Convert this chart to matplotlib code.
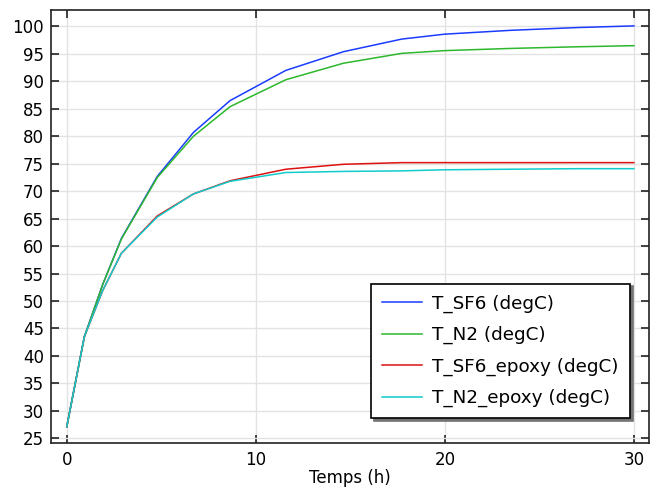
import numpy as np
import matplotlib
matplotlib.use("Agg")
import matplotlib.pyplot as plt

# temps (h) et temperatures (degC)
temps = [0, 0.93, 1.9, 2.89, 4.79, 6.70, 8.64, 11.59, 14.63, 17.72, 20.0, 23.5, 27.0, 30.0]
T_SF6 = [27.1, 43.5, 53.0, 61.4, 72.7, 80.7, 86.5, 92.0, 95.4, 97.7, 98.6, 99.3, 99.8, 100.1]
T_N2 = [27.1, 43.5, 53.0, 61.3, 72.5, 80.0, 85.4, 90.3, 93.3, 95.1, 95.6, 96.0, 96.3, 96.5]
T_SF6_epoxy = [27.1, 43.5, 51.9, 58.7, 65.5, 69.5, 71.9, 74.0, 74.9, 75.2, 75.2, 75.2, 75.2, 75.2]
T_N2_epoxy = [27.1, 43.5, 51.9, 58.7, 65.3, 69.5, 71.8, 73.4, 73.6, 73.7, 73.9, 74.0, 74.1, 74.1]

noms = ["T_SF6 (degC)", "T_N2 (degC)", "T_SF6_epoxy (degC)", "T_N2_epoxy (degC)"]
couleurs = ["#1a3cff", "#2db82d", "#dd1111", "#11cccc"]
series = [T_SF6, T_N2, T_SF6_epoxy, T_N2_epoxy]

plt.rcParams['font.family'] = ['DejaVu Sans']
plt.rcParams['font.size'] = 12

fig = plt.figure(figsize=(6.5, 4.87), dpi=100)
ax = fig.add_axes([0.078, 0.091, 0.9205, 0.8885])

for y, nom, c in zip(series, noms, couleurs):
    ax.plot(temps, y, color=c, lw=1.1, label=nom)

ax.set_xlim(-0.85, 30.8)
ax.set_ylim(24.2, 103.0)
ax.set_xticks([0, 10, 20, 30])
ax.set_yticks(np.arange(25, 101, 5))
ax.grid(True, color="#e3e3e3", lw=1.0)
ax.set_axisbelow(True)
ax.tick_params(direction="in", length=6, width=1.2, top=True, right=True,
               labelsize=12, pad=5, color="#222222")
ax.tick_params(axis="x", pad=6)
for sp in ax.spines.values():
    sp.set_linewidth(1.2)
    sp.set_color("#222222")

ax.set_xlabel("Temps (h)", fontsize=12, labelpad=0)

leg = ax.legend(loc="lower right", bbox_to_anchor=(0.968, 0.0564), borderaxespad=0,
                fancybox=False, framealpha=1, edgecolor="black",
                shadow={'facecolor': '0.45', 'edgecolor': '0.45', 'alpha': 1},
                handlelength=2.2, handletextpad=0.55, labelspacing=0.72,
                borderpad=0.6, fontsize=13.2)
leg.get_frame().set_linewidth(1.2)

fig.savefig("out.png", dpi=100)
